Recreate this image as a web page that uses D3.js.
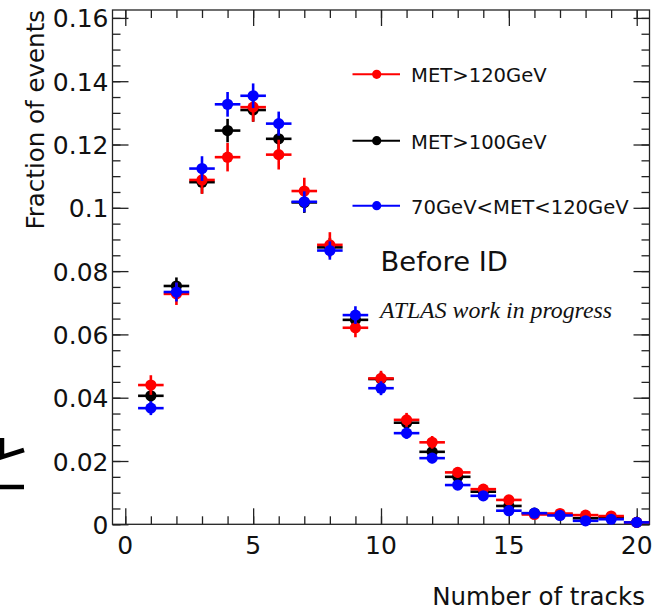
<!DOCTYPE html>
<html>
<head>
<meta charset="utf-8">
<script src="https://cdn.jsdelivr.net/npm/d3@7"></script>
<style>
  body { margin: 0; background: #fff; }
  svg { display: block; font-family: "DejaVu Sans", sans-serif; }
</style>
</head>
<body>
<svg id="chart" width="656" height="611"></svg>
<script>
// number of tracks (bin centres)
var nTracks = [1, 2, 3, 4, 5, 6, 7, 8, 9, 10, 11, 12, 13, 14, 15, 16, 17, 18, 19, 20];

// fraction of events per selection
var met120 = [0.0440, 0.0728, 0.1088, 0.1160, 0.1318, 0.1168, 0.1053, 0.0883, 0.0621, 0.0461,
              0.0330, 0.0259, 0.0164, 0.0111, 0.0077, 0.0031, 0.0034, 0.0029, 0.0026, 0.0006];
var met100 = [0.0406, 0.0753, 0.1081, 0.1244, 0.1309, 0.1218, 0.1017, 0.0875, 0.0646, 0.0459,
              0.0321, 0.0229, 0.0150, 0.0103, 0.0058, 0.0035, 0.0030, 0.0019, 0.0022, 0.0006];
var met70to120 = [0.0367, 0.0734, 0.1124, 0.1327, 0.1354, 0.1266, 0.1019, 0.0865, 0.0661, 0.0430,
                  0.0288, 0.0209, 0.0124, 0.0090, 0.0043, 0.0035, 0.0028, 0.0011, 0.0016, 0.0006];

// statistical errors
var err120 = [0.0031, 0.0035, 0.0044, 0.0045, 0.0046, 0.0047, 0.0042, 0.0040, 0.0030, 0.0024,
              0.0022, 0.0020, 0.0016, 0.0013, 0.0011, 0.0008, 0.0007, 0.0007, 0.0007, 0.0004];
var err100 = [0.0022, 0.0027, 0.0036, 0.0037, 0.0037, 0.0036, 0.0033, 0.0030, 0.0026, 0.0022,
              0.0018, 0.0015, 0.0013, 0.0010, 0.0008, 0.0006, 0.0006, 0.0005, 0.0005, 0.0003];
var err70 = [0.0022, 0.0030, 0.0039, 0.0039, 0.0039, 0.0038, 0.0033, 0.0029, 0.0028, 0.0022,
             0.0018, 0.0016, 0.0012, 0.0010, 0.0008, 0.0006, 0.0006, 0.0004, 0.0005, 0.0003];

var yTicks = [0, 0.02, 0.04, 0.06, 0.08, 0.1, 0.12, 0.14, 0.16];
var xTicks = [0, 5, 10, 15, 20];

// draw order matters: black first, then red, blue on top
var series = [
    {name: "MET>100GeV", color: "#000000", vals: met100, errs: err100},
    {name: "MET>120GeV", color: "#ff0000", vals: met120, errs: err120},
    {name: "70GeV<MET<120GeV", color: "#0000ff", vals: met70to120, errs: err70}
];
var legendOrder = [series[1], series[0], series[2]];

var svg = d3.select("#chart");
var frame = {left: 112.5, right: 649.5, top: 10, bottom: 524.3};

var x = d3.scaleLinear().domain([-0.5, 20.5]).range([frame.left, frame.right]);
var y = d3.scaleLinear().domain([0, 0.1625]).range([frame.bottom, frame.top]);

var axisColor = "#222";
var majLen = 16, minLen = 8;

function styleAxis(g) {
    g.select(".domain").remove();
    g.selectAll("line").attr("stroke", axisColor).attr("stroke-width", 1.3);
}

var xMinor = d3.range(0, 21);
var yMinor = d3.range(0, 0.1601, 0.005);

// bottom / top axes
svg.append("g").attr("transform", "translate(0," + frame.bottom + ")")
    .call(d3.axisTop(x).tickValues(xMinor).tickSize(minLen).tickFormat(""))
    .call(styleAxis);
svg.append("g").attr("transform", "translate(0," + frame.bottom + ")")
    .call(d3.axisTop(x).tickValues(xTicks).tickSize(majLen).tickFormat(""))
    .call(styleAxis);
svg.append("g").attr("transform", "translate(0," + frame.top + ")")
    .call(d3.axisBottom(x).tickValues(xMinor).tickSize(minLen).tickFormat(""))
    .call(styleAxis);
svg.append("g").attr("transform", "translate(0," + frame.top + ")")
    .call(d3.axisBottom(x).tickValues(xTicks).tickSize(majLen).tickFormat(""))
    .call(styleAxis);

// left / right axes
svg.append("g").attr("transform", "translate(" + frame.left + ",0)")
    .call(d3.axisRight(y).tickValues(yMinor).tickSize(minLen).tickFormat(""))
    .call(styleAxis);
svg.append("g").attr("transform", "translate(" + frame.left + ",0)")
    .call(d3.axisRight(y).tickValues(yTicks).tickSize(majLen).tickFormat(""))
    .call(styleAxis);
svg.append("g").attr("transform", "translate(" + frame.right + ",0)")
    .call(d3.axisLeft(y).tickValues(yMinor).tickSize(minLen).tickFormat(""))
    .call(styleAxis);
svg.append("g").attr("transform", "translate(" + frame.right + ",0)")
    .call(d3.axisLeft(y).tickValues(yTicks).tickSize(majLen).tickFormat(""))
    .call(styleAxis);

// frame
svg.append("rect")
    .attr("x", frame.left).attr("y", frame.top)
    .attr("width", frame.right - frame.left)
    .attr("height", frame.bottom - frame.top)
    .attr("fill", "none").attr("stroke", axisColor).attr("stroke-width", 1.3);

// tick labels
svg.append("g").selectAll("text")
    .data(yTicks).enter().append("text")
    .attr("x", 108.5)
    .attr("y", d => y(d) + 9.5)
    .attr("text-anchor", "end")
    .attr("font-size", 25)
    .attr("fill", "#111")
    .text(d => d3.format("~g")(d));

svg.append("g").selectAll("text")
    .data(xTicks).enter().append("text")
    .attr("x", d => x(d))
    .attr("y", 554)
    .attr("text-anchor", "middle")
    .attr("font-size", 25)
    .attr("fill", "#111")
    .text(d => d);

// axis titles
svg.append("text")
    .attr("transform", "translate(44,10) rotate(-90)")
    .attr("text-anchor", "end")
    .attr("font-size", 24.5)
    .attr("fill", "#111")
    .text("Fraction of events");

svg.append("text")
    .attr("x", 645).attr("y", 605)
    .attr("text-anchor", "end")
    .attr("font-size", 24.5)
    .attr("fill", "#111")
    .text("Number of tracks");

// data points with error bars
series.forEach(function(s) {
    var g = svg.append("g").attr("class", "series");
    var pts = nTracks.map((n, i) => ({n: n, v: s.vals[i], e: s.errs[i]}));

    var pt = g.selectAll(".pt").data(pts).enter().append("g").attr("class", "pt");
    pt.append("line")
        .attr("x1", d => x(d.n - 0.5)).attr("x2", d => x(d.n + 0.5))
        .attr("y1", d => y(d.v)).attr("y2", d => y(d.v))
        .attr("stroke", s.color).attr("stroke-width", 2.6);
    pt.append("line")
        .attr("x1", d => x(d.n)).attr("x2", d => x(d.n))
        .attr("y1", d => y(Math.max(0, d.v - d.e))).attr("y2", d => y(d.v + d.e))
        .attr("stroke", s.color).attr("stroke-width", 2.6);
    pt.append("circle")
        .attr("cx", d => x(d.n)).attr("cy", d => y(d.v))
        .attr("r", 5.6)
        .attr("fill", s.color);
});

// legend
var legend = svg.append("g");
var legY = [74.3, 140.7, 205.7];
legendOrder.forEach(function(s, i) {
    var row = legend.append("g").attr("transform", "translate(0," + legY[i] + ")");
    row.append("line")
        .attr("x1", 352.5).attr("x2", 400)
        .attr("stroke", s.color).attr("stroke-width", 2);
    row.append("circle")
        .attr("cx", 376.7).attr("r", 4.6)
        .attr("fill", s.color);
    row.append("text")
        .attr("x", 411).attr("y", 8)
        .attr("font-size", 19.6)
        .attr("fill", "#111")
        .text(s.name);
});

svg.append("text")
    .attr("x", 380.5).attr("y", 270.7)
    .attr("font-size", 27.4)
    .attr("fill", "#111")
    .text("Before ID");

svg.append("text")
    .attr("x", 380).attr("y", 318.3)
    .style("font-family", "'Liberation Serif', 'Times New Roman', serif")
    .style("font-style", "italic")
    .attr("font-size", 23.8)
    .attr("fill", "#111")
    .text("ATLAS work in progress");

// clipped glyph fragment at the left edge of the original picture
svg.append("path")
    .attr("d", "M2,438 V457 L24,450 M0,487 H24")
    .attr("fill", "none")
    .attr("stroke", "#000")
    .attr("stroke-width", 4.5);
</script>
</body>
</html>
